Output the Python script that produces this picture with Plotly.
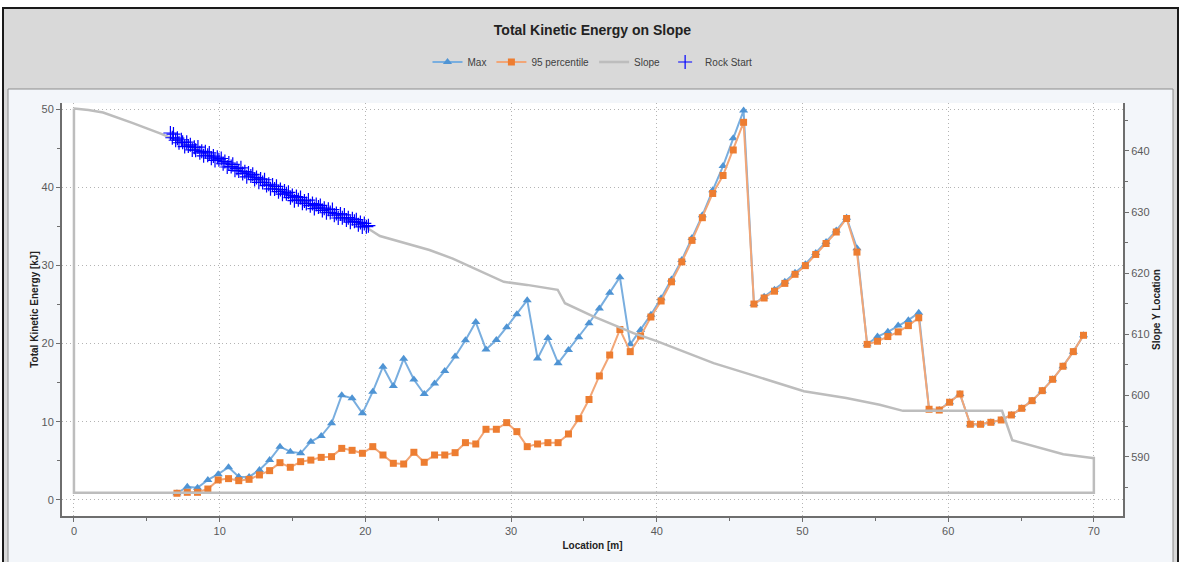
import plotly.graph_objects as go

# Bin centres along the slope [m]
location = [7.07, 7.78, 8.48, 9.19, 9.90, 10.61, 11.31, 12.02, 12.73, 13.43,
            14.14, 14.85, 15.56, 16.26, 16.97, 17.68, 18.38, 19.09, 19.80, 20.51,
            21.21, 21.92, 22.63, 23.33, 24.04, 24.75, 25.45, 26.16, 26.87, 27.58,
            28.28, 28.99, 29.70, 30.40, 31.11, 31.82, 32.53, 33.23, 33.94, 34.65,
            35.35, 36.06, 36.77, 37.47, 38.18, 38.89, 39.60, 40.30, 41.01, 41.72,
            42.42, 43.13, 43.84, 44.55, 45.25, 45.96, 46.67, 47.37, 48.08, 48.79,
            49.49, 50.20, 50.91, 51.62, 52.32, 53.03, 53.74, 54.44, 55.15, 55.86,
            56.57, 57.27, 57.98, 58.69, 59.39, 60.10, 60.81, 61.52, 62.22, 62.93,
            63.64, 64.34, 65.05, 65.76, 66.46, 67.17, 67.88, 68.59, 69.29]

# Maximum total kinetic energy [kJ]
energy_max = [0.86, 1.70, 1.57, 2.56, 3.30, 4.18, 2.98, 2.95, 3.84, 5.10,
              6.82, 6.18, 5.97, 7.46, 8.18, 9.80, 13.40, 13.00, 11.08, 13.85,
              17.05, 14.58, 18.05, 15.40, 13.55, 14.90, 16.50, 18.35, 20.43, 22.75,
              19.25, 20.46, 22.10, 23.75, 25.55, 18.10, 20.70, 17.50, 19.18, 20.80,
              22.60, 24.50, 26.50, 28.50, 19.90, 21.75, 23.70, 25.80, 28.20, 30.70,
              33.50, 36.40, 39.60, 42.70, 46.25, 49.80, 25.06, 26.00, 26.90, 27.90,
              29.05, 30.15, 31.60, 33.00, 34.45, 36.10, 32.20, 19.90, 20.90, 21.50,
              22.30, 23.00, 23.95, 11.60, 11.50, 12.50, 13.55, 9.68, 9.68, 9.93,
              10.23, 10.87, 11.72, 12.70, 13.98, 15.43, 17.10, 18.97, 21.06]

# 95th percentile total kinetic energy [kJ]
energy_p95 = [0.86, 0.98, 0.98, 1.40, 2.56, 2.73, 2.47, 2.64, 3.20, 3.75,
              4.77, 4.18, 4.90, 5.10, 5.45, 5.54, 6.60, 6.35, 5.97, 6.82,
              5.75, 4.69, 4.60, 6.10, 4.82, 5.75, 5.75, 6.05, 7.33, 7.16,
              9.04, 9.04, 9.89, 8.74, 6.82, 7.16, 7.33, 7.33, 8.44, 10.40,
              12.85, 15.86, 18.54, 21.80, 18.97, 20.97, 23.40, 25.45, 27.90, 30.45,
              33.20, 36.10, 39.20, 41.50, 44.76, 48.30, 25.06, 25.83, 26.70, 27.70,
              28.86, 29.97, 31.40, 32.80, 34.27, 36.00, 31.70, 19.90, 20.30, 20.90,
              21.50, 22.30, 23.30, 11.60, 11.50, 12.50, 13.55, 9.68, 9.68, 9.93,
              10.23, 10.87, 11.72, 12.70, 13.98, 15.43, 17.10, 18.97, 21.06]

# Slope outline (closed polygon) in slope coordinates
slope_x = [0, 1, 2, 3, 4, 5, 6, 8, 10, 12, 14, 16, 18, 20, 21, 22.4, 24.4, 26,
           27.9, 29.5, 31.1, 33.2, 33.45, 33.7, 35.6, 38.4, 40, 43.9, 46.9, 50.1,
           53, 55.3, 56.9, 63.7, 64.4, 67.9, 69.9, 70, 70, 0, 0]
slope_y = [646.95, 646.7, 646.3, 645.5, 644.6, 643.7, 642.8, 640.7, 638.5, 636.1,
           633.7, 631.5, 629.6, 627.6, 626.1, 625.2, 623.8, 622.4, 620.4, 618.6,
           618.1, 617.3, 616.2, 615.1, 613.0, 610.2, 608.9, 605.3, 603.1, 600.7,
           599.6, 598.5, 597.5, 597.5, 592.7, 590.4, 589.8, 589.8, 584.1, 584.1,
           646.95]

# Rock start positions
rock_x = [6.62, 6.75, 6.83, 6.98, 7.10, 7.21, 7.37, 7.46, 7.60, 7.74, 7.85, 7.99,
          8.12, 8.26, 8.35, 8.51, 8.64, 8.77, 8.90, 9.02, 9.18, 9.29, 9.43, 9.57,
          9.68, 9.84, 9.95, 10.11, 10.24, 10.36, 10.52, 10.63, 10.79, 10.90, 11.05,
          11.19, 11.31, 11.46, 11.58, 11.73, 11.86, 11.98, 12.14, 12.27, 12.40,
          12.53, 12.69, 12.81, 12.95, 13.08, 13.22, 13.37, 13.49, 13.63, 13.77,
          13.90, 14.04, 14.17, 14.31, 14.45, 14.58, 14.72, 14.86, 14.99, 15.13,
          15.27, 15.40, 15.55, 15.68, 15.82, 15.95, 16.09, 16.22, 16.37, 16.50,
          16.63, 16.78, 16.91, 17.05, 17.18, 17.33, 17.46, 17.59, 17.74, 17.87,
          18.01, 18.14, 18.29, 18.42, 18.56, 18.70, 18.83, 18.97, 19.11, 19.25,
          19.38, 19.52, 19.66, 19.79, 19.93, 20.07, 20.21]
rock_y = [642.94, 642.17, 642.76, 641.76, 642.10, 641.35, 641.84, 641.42, 640.73,
          641.45, 640.80, 641.01, 640.17, 640.61, 640.12, 640.64, 639.70, 639.95,
          639.21, 639.88, 639.30, 639.68, 638.83, 639.17, 638.45, 638.98, 638.56,
          638.77, 637.91, 638.27, 637.38, 638.04, 637.45, 637.82, 636.84, 637.17,
          636.73, 637.25, 636.30, 636.62, 635.77, 636.42, 635.93, 636.18, 635.32,
          635.66, 634.87, 635.43, 634.86, 635.30, 634.34, 634.56, 633.81, 634.44,
          633.78, 634.22, 633.35, 633.70, 632.93, 633.46, 633.00, 633.24, 632.37,
          632.71, 631.88, 632.55, 632.02, 632.38, 631.46, 631.83, 631.40, 631.97,
          631.05, 631.41, 630.59, 631.26, 630.82, 631.10, 630.27, 630.64, 629.90,
          630.48, 629.96, 630.42, 629.49, 629.76, 629.04, 629.70, 629.07, 629.54,
          628.71, 629.09, 628.36, 628.92, 628.49, 628.77, 627.94, 628.31, 627.58,
          628.15, 627.62, 627.79]

W, H = 1182, 562
ML, MR, MT, MB = 62, 59, 103, 46
PW, PH = W - ML - MR, H - MT - MB


def px(x):
    return (x - ML) / PW


def py(y):
    return (H - MB - y) / PH


TEXT = "#404040"
TICK_FONT = dict(family="Liberation Sans, Arial, sans-serif", size=11, color="#5A5A5A")
AXIS_TITLE_FONT = dict(family="Liberation Sans, Arial, sans-serif", size=10, color="#222222")
GRID = "#B4B4B4"
GRID_DASH = "1px,3px"
AXIS = "#6E6E6E"

fig = go.Figure()

fig.add_trace(go.Scatter(
    x=location, y=energy_max, name="Max", mode="lines+markers",
    line=dict(color="#79AEDF", width=2),
    marker=dict(symbol="triangle-up", size=8, color="#4F94D4"),
))
fig.add_trace(go.Scatter(
    x=location, y=energy_p95, name="95 percentile", mode="lines+markers",
    line=dict(color="#F2A677", width=2),
    marker=dict(symbol="square", size=7, color="#ED7D31"),
))
fig.add_trace(go.Scatter(
    x=slope_x, y=slope_y, name="Slope", mode="lines", yaxis="y2",
    line=dict(color="#BDBDBD", width=2.5),
))
fig.add_trace(go.Scatter(
    x=rock_x, y=rock_y, name="Rock Start", mode="markers", yaxis="y2",
    marker=dict(symbol="cross-thin", size=10, color="#0000FF",
                line=dict(color="#0000FF", width=1.2)),
))

shapes = [
    # outer frame with grey header band
    dict(type="rect", xref="paper", yref="paper", layer="below",
         x0=px(3), x1=px(1178), y0=py(H + 5), y1=py(8),
         fillcolor="#D9D9D9", line=dict(color="#1A1A1A", width=2)),
    # chart panel
    dict(type="rect", xref="paper", yref="paper", layer="below",
         x0=px(8), x1=px(1173), y0=py(H + 5), y1=py(89),
         fillcolor="#F3F6FA", line=dict(color="#8C8C8C", width=1)),
    # plotting area
    dict(type="rect", xref="paper", yref="paper", layer="below",
         x0=0, x1=1, y0=0, y1=1, fillcolor="#FFFFFF", line=dict(width=0)),
]

fig.update_layout(
    width=W, height=H,
    margin=dict(l=ML, r=MR, t=MT, b=MB, pad=0),
    paper_bgcolor="#FFFFFF",
    plot_bgcolor="#FFFFFF",
    shapes=shapes,
    title=dict(text="<b>Total Kinetic Energy on Slope</b>", x=0.5, xanchor="center",
               xref="paper", y=1 - 30 / H, yanchor="middle",
               font=dict(family="Liberation Sans, Arial, sans-serif", size=14,
                         color="#222222")),
    legend=dict(orientation="h", x=0.5, xanchor="center", y=py(62), yanchor="middle",
                bgcolor="rgba(0,0,0,0)", font=dict(family="Liberation Sans, Arial, sans-serif",
                                                  size=10, color=TEXT),
                itemwidth=30),
    showlegend=True,
    xaxis=dict(
        range=[-0.82, 72], tick0=0, dtick=10, ticks="outside", ticklen=4,
        tickcolor=AXIS, tickfont=TICK_FONT,
        showline=True, linecolor=AXIS, linewidth=2,
        showgrid=True, gridcolor=GRID, griddash=GRID_DASH, gridwidth=1,
        zeroline=False,
        minor=dict(dtick=5, tick0=0, ticks="outside", ticklen=3, tickcolor=AXIS,
                   showgrid=False),
        title=dict(text="<b>Location [m]</b>", font=AXIS_TITLE_FONT, standoff=6),
    ),
    yaxis=dict(
        range=[-2.05, 50.77], tick0=0, dtick=10, ticks="outside", ticklen=4,
        tickcolor=AXIS, tickfont=TICK_FONT,
        showline=True, linecolor=AXIS, linewidth=2,
        showgrid=True, gridcolor=GRID, griddash=GRID_DASH, gridwidth=1,
        zeroline=False,
        minor=dict(dtick=5, tick0=0, ticks="outside", ticklen=3, tickcolor=AXIS,
                   showgrid=False),
        title=dict(text="<b>Total Kinetic Energy [kJ]</b>", font=AXIS_TITLE_FONT, standoff=1),
    ),
    yaxis2=dict(
        overlaying="y", side="right",
        range=[580.3, 647.85], tick0=590, dtick=10, ticks="outside", ticklen=4,
        tickcolor=AXIS, tickfont=TICK_FONT,
        showline=True, linecolor=AXIS, linewidth=2,
        showgrid=False, zeroline=False,
        minor=dict(dtick=5, tick0=0, ticks="outside", ticklen=3, tickcolor=AXIS,
                   showgrid=False),
        title=dict(text="<b>Slope Y Location</b>", font=AXIS_TITLE_FONT, standoff=4),
    ),
)

fig.write_html("out.html")
